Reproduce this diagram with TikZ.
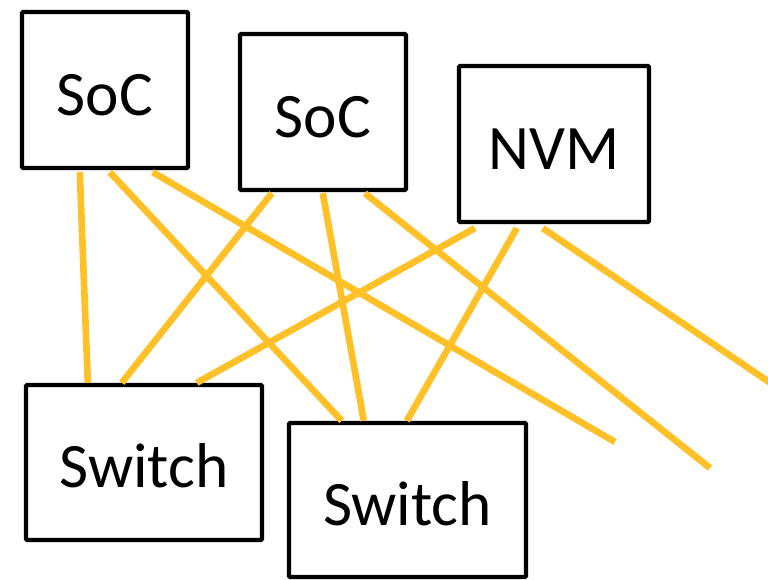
\documentclass[tikz,border=0pt]{standalone}
\usepackage{fontspec}
\setmainfont{Carlito}
\usetikzlibrary{calc,positioning}
\definecolor{linkgold}{RGB}{255,192,40}
\tikzset{
	unit/.style={
		rectangle,
		rounded corners=1pt,
		draw=black, line width=3.3pt,
		minimum width=124.5pt,
		minimum height=117pt,
		text height=38pt, text depth=0pt,
		font=\fontsize{47.5}{52}\selectfont,
		text centered,
	},
	link/.style={draw=linkgold, line width=5pt},
}

\begin{document}
\begin{tikzpicture}[x=0.75pt, y=-0.75pt]
\useasboundingbox (0,0) rectangle (768,579);
\clip (0,0) rectangle (768,579);
\node	(soca)	[unit]	at (105,90)	{SoC};
\node	(socb)	[unit]	at (323,112)	{SoC};
\node	(nvm)	[unit, minimum width=142.5pt]	at (554,144)	{NVM};
\node	(swa)	[unit, minimum width=177pt, minimum height=116.25pt]	at (144,462.5)	{Switch};
\node	(swb)	[unit, minimum width=177.75pt, minimum height=115.5pt]	at (407.5,500)	{Switch};
\coordinate	(enda)	at (615,442);
\coordinate	(endb)	at (710,468);
\coordinate	(endc)	at (775,386);

\path[link] ($(soca.south west)+(60,2)$) edge ($(swa.north west)+(64,0)$);
\path[link] ($(soca.south west)+(90,2)$) edge ($(swb.north west)+(55,0)$);
\path[link] ($(soca.south west)+(133,2)$) edge (enda);
\path[link] ($(socb.south west)+(34,1)$) edge ($(swa.north west)+(98,0)$);
\path[link] ($(socb.south west)+(85,1)$) edge ($(swb.north west)+(77,0)$);
\path[link] ($(socb.south west)+(127,1)$) edge (endb);
\path[link] ($(nvm.south west)+(18,4)$) edge ($(swa.north west)+(173,0)$);
\path[link] ($(nvm.south west)+(60,4)$) edge ($(swb.north west)+(120,0)$);
\path[link] ($(nvm.south west)+(86,4)$) edge (endc);

\end{tikzpicture}
\end{document}
